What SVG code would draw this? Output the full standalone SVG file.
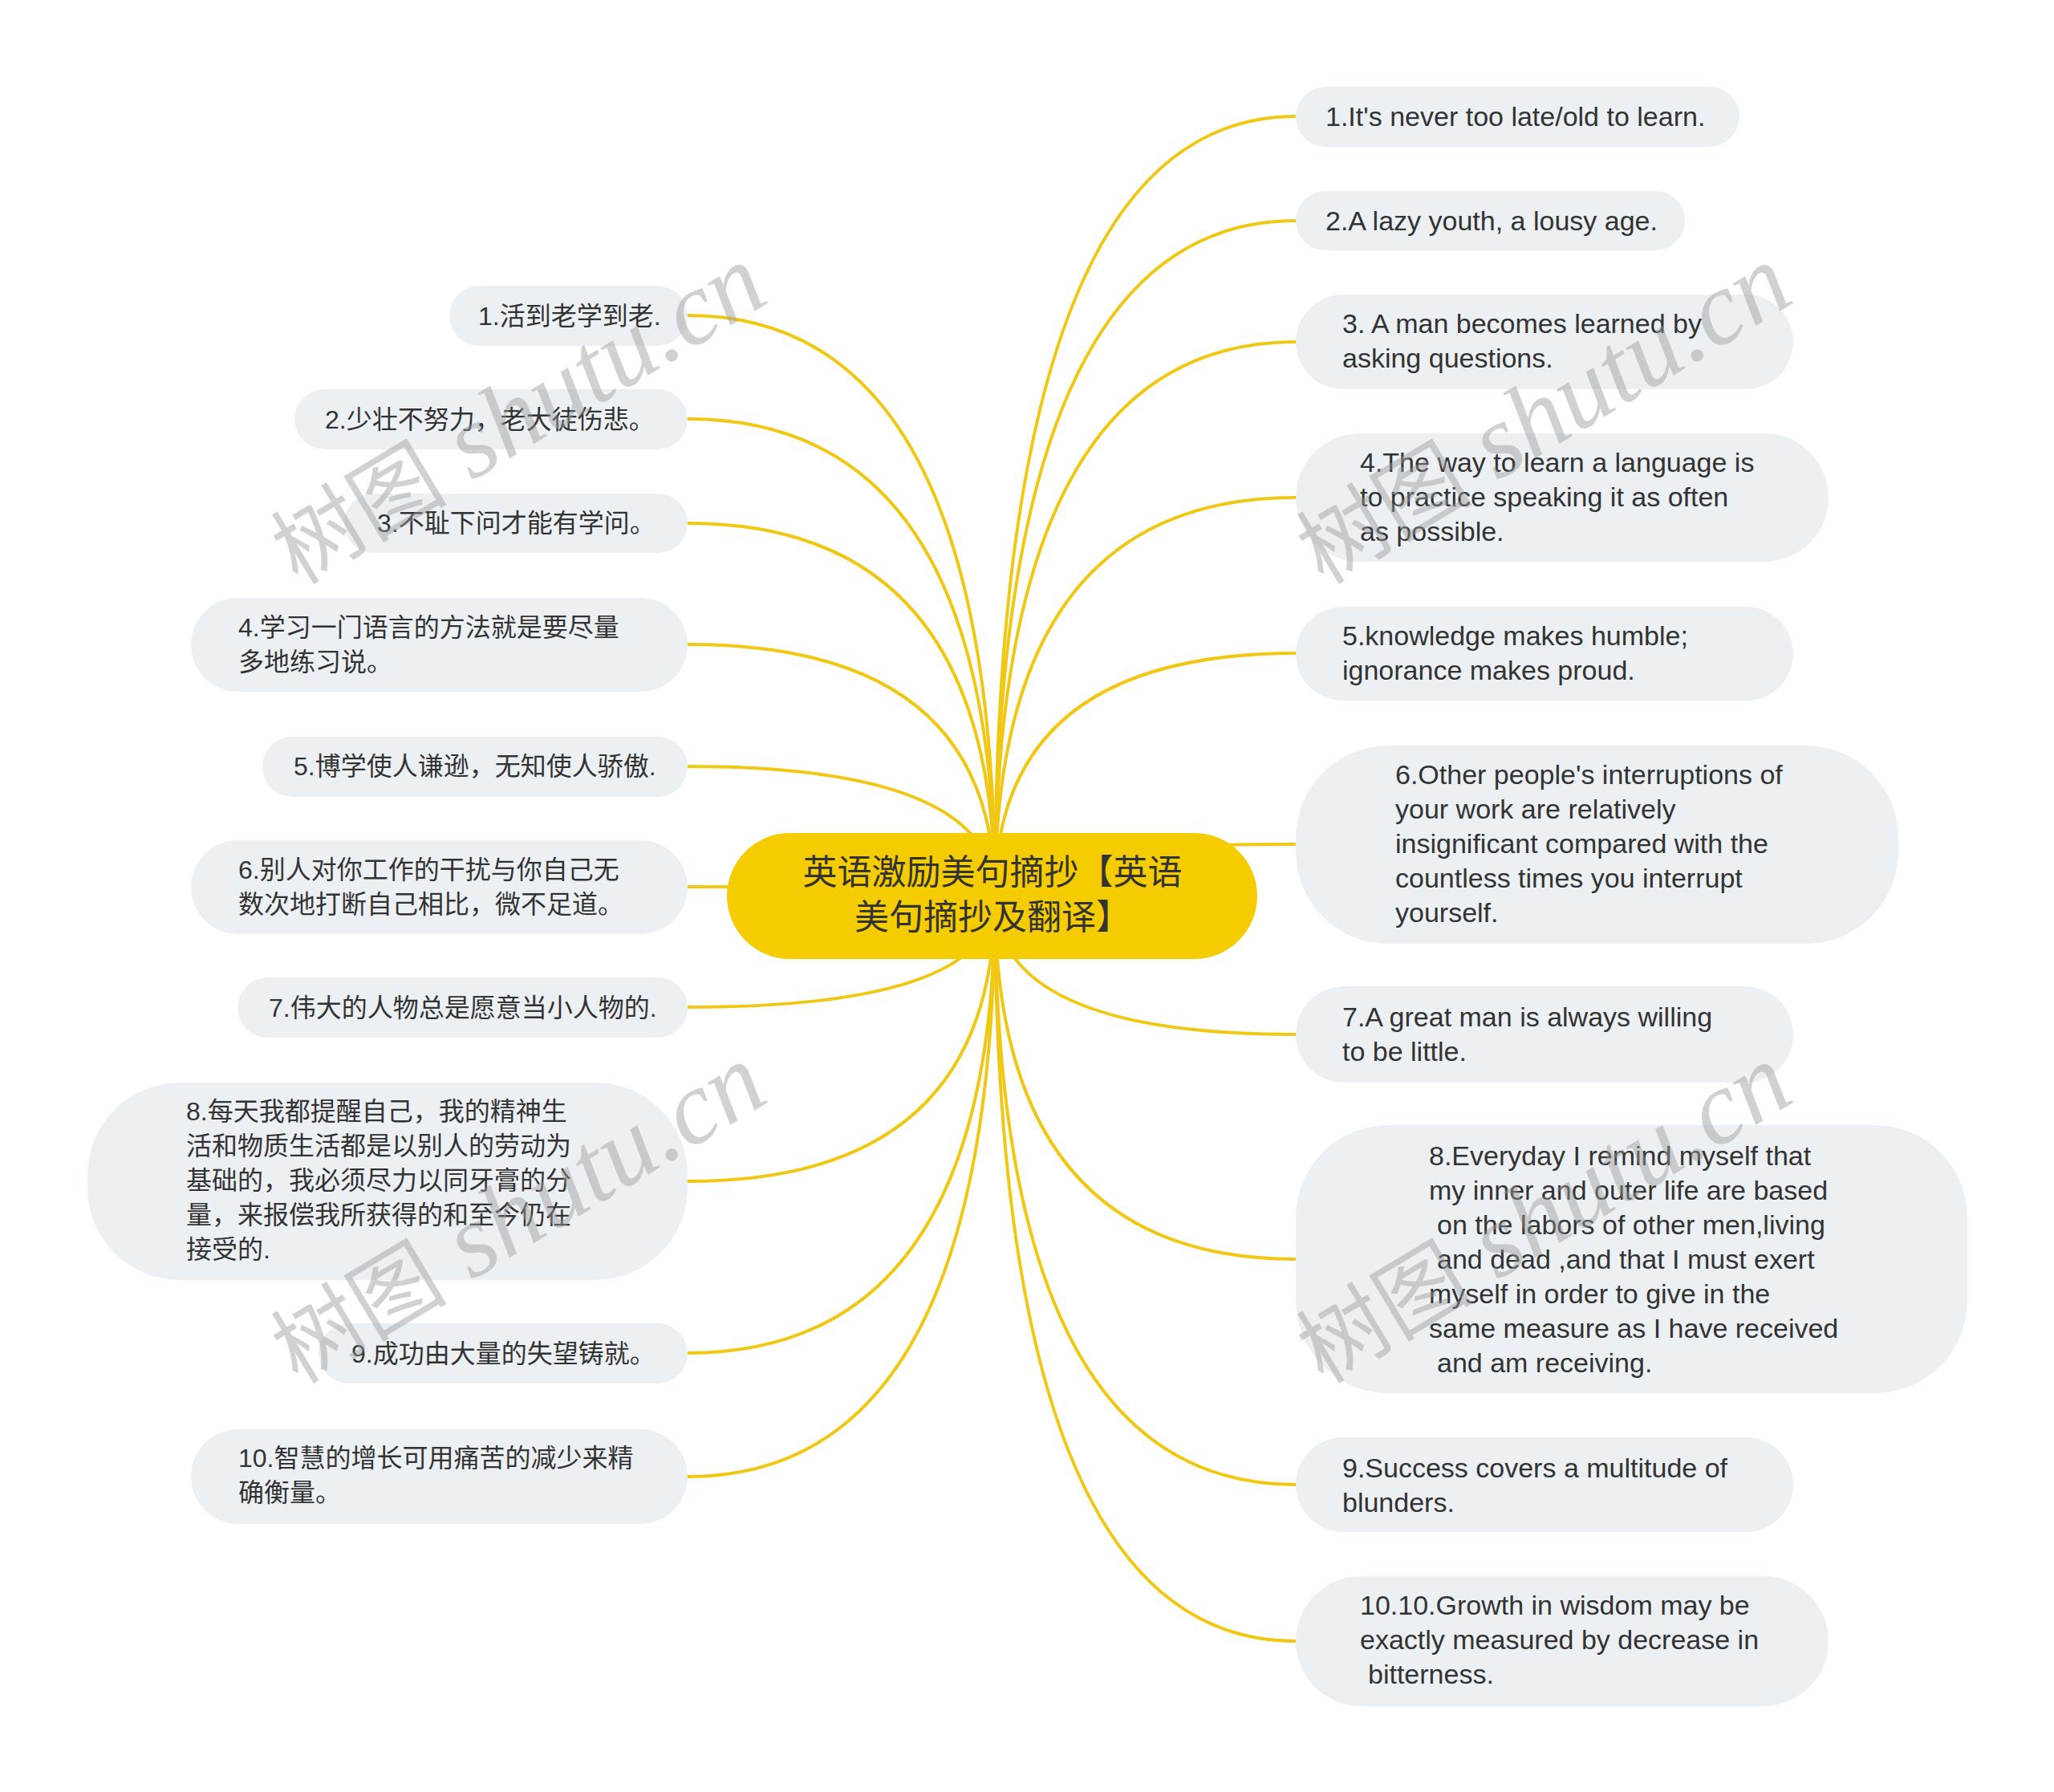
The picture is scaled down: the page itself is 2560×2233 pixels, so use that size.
<svg xmlns="http://www.w3.org/2000/svg" width="2560" height="2233" viewBox="0 0 2560 2233">
<style>
.bg{fill:#ffffff}
.conn path{fill:none;stroke:#F0C814;stroke-width:4;stroke-linecap:round}
.node rect{fill:#EDF0F3}
.t{font-family:"Liberation Sans","Noto Sans CJK SC",sans-serif;font-size:34px;fill:#333333}
.c{font-family:"Liberation Sans","Noto Sans CJK SC",sans-serif;font-size:32px;fill:#333333}
.root rect{fill:#F5CC00}
.rt{font-family:"Liberation Sans","Noto Sans CJK SC",sans-serif;font-size:43px;fill:#333333;text-anchor:middle}
.wm{fill:#9a9a9a;fill-opacity:0.45;text-anchor:middle}
.wm1{font-family:"Noto Sans CJK SC",sans-serif;font-size:110px}
.wm2{font-family:"Liberation Serif",serif;font-style:italic;font-size:130px}
</style>
<rect class="bg" x="0" y="0" width="2560" height="2233"/>
<g id="connectors" class="conn">
<path d="M1240 1117 Q1240 145 1615 145"/>
<path d="M1240 1117 Q1240 275 1615 275"/>
<path d="M1240 1117 Q1240 426 1615 426"/>
<path d="M1240 1117 Q1240 620 1615 620"/>
<path d="M1240 1117 Q1240 814 1615 814"/>
<path d="M1240 1117 Q1240 1052 1615 1052"/>
<path d="M1240 1117 Q1240 1289 1615 1289"/>
<path d="M1240 1117 Q1240 1569 1615 1569"/>
<path d="M1240 1117 Q1240 1850 1615 1850"/>
<path d="M1240 1117 Q1240 2045 1615 2045"/>
<path d="M1240 1117 Q1240 393 857 393"/>
<path d="M1240 1117 Q1240 522 857 522"/>
<path d="M1240 1117 Q1240 652 857 652"/>
<path d="M1240 1117 Q1240 803 857 803"/>
<path d="M1240 1117 Q1240 955 857 955"/>
<path d="M1240 1117 Q1240 1105 857 1105"/>
<path d="M1240 1117 Q1240 1255 857 1255"/>
<path d="M1240 1117 Q1240 1472 857 1472"/>
<path d="M1240 1117 Q1240 1686 857 1686"/>
<path d="M1240 1117 Q1240 1840 857 1840"/>
</g>
<g id="root" class="root">
<rect x="906" y="1038" width="661" height="157" rx="78.5" ry="78.5"/>
<text class="rt" x="1237" y="1102">英语激励美句摘抄【英语</text>
<text class="rt" x="1237" y="1158">美句摘抄及翻译】</text>
</g>
<g id="r1" class="node"><rect x="1615" y="108" width="553" height="75" rx="37.5"/>
<text class="t" x="1652" y="157">1.It's never too late/old to learn.</text></g>
<g id="r2" class="node"><rect x="1615" y="238" width="485" height="74" rx="37"/>
<text class="t" x="1652" y="287">2.A lazy youth, a lousy age.</text></g>
<g id="r3" class="node"><rect x="1615" y="367" width="620" height="118" rx="59"/>
<text class="t" x="1673" y="415">3. A man becomes learned by</text>
<text class="t" x="1673" y="458">asking questions.</text></g>
<g id="r4" class="node"><rect x="1615" y="540" width="664" height="160" rx="80"/>
<text class="t" x="1695" y="588">4.The way to learn a language is</text>
<text class="t" x="1695" y="631">to practice speaking it as often</text>
<text class="t" x="1695" y="674">as possible.</text></g>
<g id="r5" class="node"><rect x="1615" y="756" width="620" height="117" rx="58.5"/>
<text class="t" x="1673" y="804">5.knowledge makes humble;</text>
<text class="t" x="1673" y="847">ignorance makes proud.</text></g>
<g id="r6" class="node"><rect x="1615" y="929" width="751" height="247" rx="115"/>
<text class="t" x="1739" y="977">6.Other people's interruptions of</text>
<text class="t" x="1739" y="1020">your work are relatively</text>
<text class="t" x="1739" y="1063">insignificant compared with the</text>
<text class="t" x="1739" y="1106">countless times you interrupt</text>
<text class="t" x="1739" y="1149">yourself.</text></g>
<g id="r7" class="node"><rect x="1615" y="1229" width="620" height="120" rx="60"/>
<text class="t" x="1673" y="1279">7.A great man is always willing</text>
<text class="t" x="1673" y="1322">to be little.</text></g>
<g id="r8" class="node"><rect x="1615" y="1402" width="837" height="334" rx="115"/>
<text class="t" x="1781" y="1452">8.Everyday I remind myself that</text>
<text class="t" x="1781" y="1495">my inner and outer life are based</text>
<text class="t" x="1791" y="1538">on the labors of other men,living</text>
<text class="t" x="1791" y="1581">and dead ,and that I must exert</text>
<text class="t" x="1781" y="1624">myself in order to give in the</text>
<text class="t" x="1781" y="1667">same measure as I have received</text>
<text class="t" x="1791" y="1710">and am receiving.</text></g>
<g id="r9" class="node"><rect x="1615" y="1791" width="620" height="118" rx="59"/>
<text class="t" x="1673" y="1841">9.Success covers a multitude of</text>
<text class="t" x="1673" y="1884">blunders.</text></g>
<g id="r10" class="node"><rect x="1615" y="1964" width="664" height="162" rx="81"/>
<text class="t" x="1695" y="2012">10.10.Growth in wisdom may be</text>
<text class="t" x="1695" y="2055">exactly measured by decrease in</text>
<text class="t" x="1705" y="2098">bitterness.</text></g>
<g id="l1" class="node"><rect x="560" y="356" width="297" height="75" rx="37.5"/>
<text class="c" x="596" y="405">1.活到老学到老.</text></g>
<g id="l2" class="node"><rect x="367" y="485" width="490" height="75" rx="37.5"/>
<text class="c" x="405" y="534">2.少壮不努力，老大徒伤悲。</text></g>
<g id="l3" class="node"><rect x="429" y="615" width="428" height="74" rx="37"/>
<text class="c" x="470" y="663">3.不耻下问才能有学问。</text></g>
<g id="l4" class="node"><rect x="238" y="745" width="619" height="117" rx="58.5"/>
<text class="c" x="297" y="793">4.学习一门语言的方法就是要尽量</text>
<text class="c" x="297" y="836">多地练习说。</text></g>
<g id="l5" class="node"><rect x="327" y="918" width="530" height="75" rx="37.5"/>
<text class="c" x="366" y="966">5.博学使人谦逊，无知使人骄傲.</text></g>
<g id="l6" class="node"><rect x="238" y="1047" width="619" height="117" rx="58.5"/>
<text class="c" x="297" y="1095">6.别人对你工作的干扰与你自己无</text>
<text class="c" x="297" y="1138">数次地打断自己相比，微不足道。</text></g>
<g id="l7" class="node"><rect x="296" y="1218" width="561" height="75" rx="37.5"/>
<text class="c" x="335" y="1267">7.伟大的人物总是愿意当小人物的.</text></g>
<g id="l8" class="node"><rect x="109" y="1349" width="748" height="246" rx="115"/>
<text class="c" x="232" y="1396">8.每天我都提醒自己，我的精神生</text>
<text class="c" x="232" y="1439">活和物质生活都是以别人的劳动为</text>
<text class="c" x="232" y="1482">基础的，我必须尽力以同牙膏的分</text>
<text class="c" x="232" y="1525">量，来报偿我所获得的和至今仍在</text>
<text class="c" x="232" y="1568">接受的.</text></g>
<g id="l9" class="node"><rect x="397" y="1649" width="460" height="75" rx="37.5"/>
<text class="c" x="438" y="1698">9.成功由大量的失望铸就。</text></g>
<g id="l10" class="node"><rect x="238" y="1781" width="619" height="118" rx="59"/>
<text class="c" x="297" y="1828">10.智慧的增长可用痛苦的减少来精</text>
<text class="c" x="297" y="1871">确衡量。</text></g>
<g id="watermarks">
<text class="wm" transform="translate(646,518) rotate(-31)" x="0" y="40"><tspan class="wm1">树图</tspan><tspan class="wm2"> shutu.cn</tspan></text>
<text class="wm" transform="translate(1924,518) rotate(-31)" x="0" y="40"><tspan class="wm1">树图</tspan><tspan class="wm2"> shutu.cn</tspan></text>
<text class="wm" transform="translate(646,1514) rotate(-31)" x="0" y="40"><tspan class="wm1">树图</tspan><tspan class="wm2"> shutu.cn</tspan></text>
<text class="wm" transform="translate(1924,1514) rotate(-31)" x="0" y="40"><tspan class="wm1">树图</tspan><tspan class="wm2"> shutu.cn</tspan></text>
</g>
</svg>
